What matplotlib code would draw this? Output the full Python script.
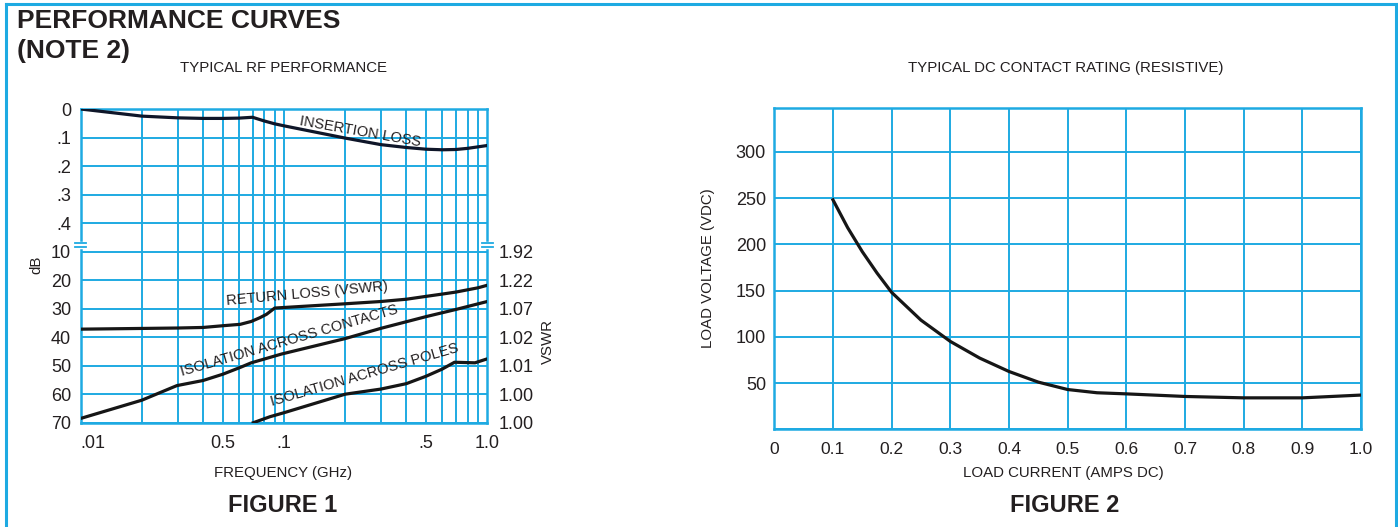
import numpy as np
import matplotlib
matplotlib.use('Agg')
import matplotlib.pyplot as plt
from matplotlib.lines import Line2D

plt.rcParams['font.family'] = ['Liberation Sans', 'DejaVu Sans']

# ---------------- FIGURE 1 data (frequency in GHz) ----------------
il_freq = [0.01, 0.02, 0.03, 0.04, 0.05, 0.06, 0.07, 0.08, 0.09, 0.1, 0.2, 0.3, 0.4, 0.5, 0.6, 0.7, 0.8, 1.0]
il_db = [0.0, 0.025, 0.031, 0.033, 0.033, 0.032, 0.029, 0.042, 0.052, 0.059, 0.102, 0.125, 0.135, 0.141, 0.143, 0.142, 0.138, 0.128]

rl_freq = [0.01, 0.03, 0.04, 0.05, 0.061, 0.069, 0.076, 0.082, 0.09, 0.1, 0.2, 0.3, 0.4, 0.5, 0.6, 0.7, 0.8, 0.9, 1.0]
rl_db = [37.2, 36.8, 36.6, 36.0, 35.5, 34.5, 33.2, 32.0, 29.8, 29.6, 28.3, 27.5, 26.7, 25.7, 24.9, 24.2, 23.4, 22.7, 21.8]

isoc_freq = [0.01, 0.02, 0.0297, 0.04, 0.05, 0.061, 0.069, 0.0975, 0.2, 0.3, 0.5, 0.7, 1.0]
isoc_db = [68.5, 62.1, 57.0, 55.2, 53.0, 50.6, 49.0, 45.9, 40.5, 36.9, 32.8, 30.3, 27.5]

isop_freq = [0.0694, 0.0853, 0.1, 0.2, 0.3, 0.4, 0.5, 0.6, 0.69, 0.87, 1.0]
isop_db = [70.2, 67.9, 66.5, 60.0, 58.2, 56.3, 53.7, 51.2, 48.8, 49.0, 47.6]

db_tick_labels = ['0', '.1', '.2', '.3', '.4', '10', '20', '30', '40', '50', '60', '70']
vswr_tick_labels = ['1.92', '1.22', '1.07', '1.02', '1.01', '1.00', '1.00']
freq_ticks = [0.01, 0.05, 0.1, 0.5, 1.0]
freq_tick_labels = ['.01', '0.5', '.1', '.5', '1.0']

# ---------------- FIGURE 2 data ----------------
dc_current = [0.1, 0.125, 0.15, 0.175, 0.2, 0.25, 0.30, 0.35, 0.40, 0.45, 0.50, 0.55, 0.60, 0.70, 0.80, 0.90, 1.0]
dc_voltage = [248, 218, 192, 169, 148, 118, 95, 77, 62.5, 51, 43, 39.5, 38.3, 35.5, 34, 34, 37]
dc_x_ticks = [0, 0.1, 0.2, 0.3, 0.4, 0.5, 0.6, 0.7, 0.8, 0.9, 1.0]
dc_x_labels = ['0', '0.1', '0.2', '0.3', '0.4', '0.5', '0.6', '0.7', '0.8', '0.9', '1.0']
dc_y_ticks = [50, 100, 150, 200, 250, 300]

CYAN = '#1eaae2'
INK = '#231f20'
W, H = 1398, 527


def to_idx(v):
    """Broken-axis position: 0-0.4 dB in tenths, then 10-70 dB in tens."""
    v = np.asarray(v, dtype=float)
    return np.where(v < 1, v * 10.0, v / 10.0 + 4.0)


fig = plt.figure(figsize=(W / 100, H / 100), dpi=100)

# outer frame
fig.add_artist(Line2D([6 / W, 6 / W], [0, 1 - 3.5 / H], color=CYAN, lw=2.2))
fig.add_artist(Line2D([6 / W, 1396 / W], [1 - 3.5 / H, 1 - 3.5 / H], color=CYAN, lw=2.2))
fig.add_artist(Line2D([1396 / W, 1396 / W], [1 - 3.5 / H, 0], color=CYAN, lw=2.2))

fig.text(17 / W, 1 - 21 / H, 'PERFORMANCE CURVES', fontsize=19, fontweight='bold', color=INK, ha='left', va='center')
fig.text(17 / W, 1 - 51 / H, '(NOTE 2)', fontsize=19, fontweight='bold', color=INK, ha='left', va='center')
fig.text(284 / W, 1 - 68 / H, 'TYPICAL RF PERFORMANCE', fontsize=10.8, color=INK, ha='center', va='center')
fig.text(1065.5 / W, 1 - 68 / H, 'TYPICAL DC CONTACT RATING (RESISTIVE)', fontsize=10.8, color=INK, ha='center', va='center')
fig.text(283 / W, 1 - 505 / H, 'FIGURE 1', fontsize=17, fontweight='bold', color=INK, ha='center', va='center')
fig.text(1065 / W, 1 - 505 / H, 'FIGURE 2', fontsize=17, fontweight='bold', color=INK, ha='center', va='center')

# ---------------- Figure 1 ----------------
L, R, T, B = 80.7, 487.3, 109, 422.7
ax = fig.add_axes([L / W, 1 - B / H, (R - L) / W, (B - T) / H])
ax.set_xscale('log')
ax.set_xlim(0.01, 1.0)
ax.set_ylim(11, 0)
for e in (-2, -1):
    for k in range(1, 10):
        ax.axvline(k * 10.0 ** e, color=CYAN, lw=1.4, zorder=1)
for i in range(12):
    ax.axhline(i, color=CYAN, lw=1.4, zorder=1)
for s in ax.spines.values():
    s.set_color(CYAN)
    s.set_linewidth(1.8)

ax.set_xticks(freq_ticks)
ax.set_xticklabels(freq_tick_labels)
ax.xaxis.set_minor_locator(matplotlib.ticker.NullLocator())
ax.set_yticks(range(12))
ax.set_yticklabels(db_tick_labels)
ax.tick_params(axis='x', length=0, pad=9, labelsize=13, colors=INK)
ax.tick_params(axis='y', length=0, pad=7, labelsize=13, colors=INK)
ax.get_xticklabels()[0].set_ha('left')

ax2 = ax.twinx()
ax2.set_ylim(11, 0)
ax2.set_yticks(range(5, 12))
ax2.set_yticklabels(vswr_tick_labels)
ax2.tick_params(axis='y', length=0, pad=8, labelsize=13, colors=INK)
for s in ax2.spines.values():
    s.set_visible(False)

lw = 2.3
ax.plot(il_freq, to_idx(il_db), color='#0f1629', lw=lw, zorder=3, solid_capstyle='butt')
ax.plot(rl_freq, to_idx(rl_db), color='#161616', lw=lw, zorder=3, solid_capstyle='butt')
ax.plot(isoc_freq, to_idx(isoc_db), color='#161616', lw=lw, zorder=3, solid_capstyle='butt')
ax.plot(isop_freq, to_idx(isop_db), color='#161616', lw=lw, zorder=3, solid_capstyle='butt')

lab = dict(fontsize=10.5, color=INK, ha='left', va='baseline', rotation_mode='anchor', zorder=4)
ax.text(0.119, 0.56, 'INSERTION LOSS', rotation=-10, **lab)
ax.text(0.0524, 6.86, 'RETURN LOSS (VSWR)', rotation=5.2, **lab)
ax.text(0.0315, 9.36, 'ISOLATION ACROSS CONTACTS', rotation=16.2, **lab)
ax.text(0.087, 10.42, 'ISOLATION ACROSS POLES', rotation=16.2, **lab)

# axis break marks
yb = 1 - (245 - T) / (B - T)
dy = 1.8 / (B - T)
dx = 5.5 / (R - L)
for xa in (0.0, 1.0):
    ax.add_line(Line2D([xa, xa], [yb - dy, yb + dy], transform=ax.transAxes, color='white', lw=2.5, clip_on=False, zorder=5))
    for yy in (yb - dy, yb + dy):
        ax.add_line(Line2D([xa - dx, xa + dx], [yy, yy], transform=ax.transAxes, color=CYAN, lw=1.3, clip_on=False, zorder=6))

fig.text(36.7 / W, 1 - 265 / H, 'dB', fontsize=10.8, color=INK, rotation=90, ha='center', va='center')
fig.text(547.5 / W, 1 - 342 / H, 'VSWR', fontsize=10.8, color=INK, rotation=90, ha='center', va='center')
fig.text(283 / W, 1 - 473 / H, 'FREQUENCY (GHz)', fontsize=10.8, color=INK, ha='center', va='center')

# ---------------- Figure 2 ----------------
L2, R2, T2, B2 = 774.3, 1361, 108.3, 429.3
bx = fig.add_axes([L2 / W, 1 - B2 / H, (R2 - L2) / W, (B2 - T2) / H])
bx.set_xlim(0, 1.0)
bx.set_ylim(0, 347)
for xv in dc_x_ticks:
    bx.axvline(xv, color=CYAN, lw=1.4, zorder=1)
for yv in range(0, 351, 50):
    bx.axhline(yv, color=CYAN, lw=1.4, zorder=1)
for s in bx.spines.values():
    s.set_color(CYAN)
    s.set_linewidth(1.8)
bx.set_xticks(dc_x_ticks)
bx.set_xticklabels(dc_x_labels)
bx.set_yticks(dc_y_ticks)
bx.tick_params(axis='x', length=0, pad=9.5, labelsize=12.5, colors=INK)
bx.tick_params(axis='y', length=0, pad=6, labelsize=13, colors=INK)
bx.plot(dc_current, dc_voltage, color='#161616', lw=2.3, zorder=3)

fig.text(708 / W, 1 - 268 / H, 'LOAD VOLTAGE (VDC)', fontsize=10.8, color=INK, rotation=90, ha='center', va='center')
fig.text(1063 / W, 1 - 472.5 / H, 'LOAD CURRENT (AMPS DC)', fontsize=10.8, color=INK, ha='center', va='center')

fig.savefig('out.png', dpi=100)
